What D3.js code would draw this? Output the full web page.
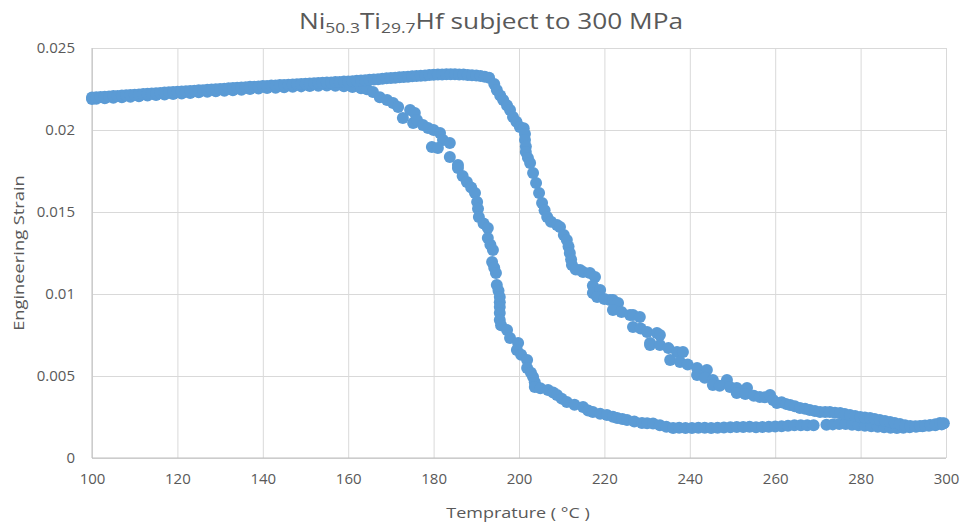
<!DOCTYPE html>
<html>
<head>
<meta charset="utf-8">
<title>NiTiHf strain vs temperature</title>
<script src="https://cdn.jsdelivr.net/npm/d3@7"></script>
<style>
body { margin: 0; background: #fff; }
text { font-family: 'Open Sans', sans-serif; fill: #595959; }
.grid line { stroke: #d9d9d9; }
</style>
</head>
<body>
<script>
// heating branch (upper curve), [temperature, strain]
var heating = [
[100,.02198],[101,.02200],[102,.02201],[103,.02203],[104,.02205],[105,.02207],[106,.02208],[107,.02210],[108,.02212],[109,.02214],
[110,.02215],[111,.02217],[112,.02219],[113,.02221],[114,.02223],[115,.02224],[116,.02226],[117,.02228],[118,.02230],[119,.02231],
[120,.02233],[121,.02235],[122,.02237],[123,.02238],[124,.02240],[125,.02242],[126,.02243],[127,.02245],[128,.02247],[129,.02249],
[130,.02250],[131,.02252],[132,.02254],[133,.02256],[134,.02257],[135,.02259],[136,.02261],[137,.02263],[138,.02264],[139,.02266],
[140,.02268],[141,.02269],[142,.02271],[143,.02272],[144,.02274],[145,.02275],[146,.02276],[147,.02278],[148,.02279],[149,.02281],
[150,.02282],[151,.02283],[152,.02285],[153,.02286],[154,.02288],[155,.02289],[156,.02290],[157,.02292],[158,.02293],[159,.02295],
[160,.02296],[161,.02298],[162,.02300],[163,.02302],[164,.02304],[165,.02306],[166,.02308],[167,.02310],[168,.02313],[169,.02315],
[170,.02317],[171,.02319],[172,.02321],[173,.02323],[174,.02325],[175,.02327],[176,.02329],[177,.02331],[178,.02333],[179,.02335],
[180,.02337],[181,.02338],[182,.02339],[183,.02340],[184,.02340],[185,.02340],[186,.02339],[187,.02338],[188,.02336],[189,.02334],
[190,.02332],[191,.02329],[192,.02325],[193,.02318],
[194.2,.0228],[194.8,.02244],[195.6,.0221],[196.3,.02183],[197.2,.0215],[197.9,.02122],[198.6,.02079],[199.4,.0205],[200.2,.02018],
[201.1,.0201],[201.4,.01975],[201.4,.01939],[201.6,.019],[201.6,.01866],[202.1,.0183],[202.6,.01799],[203.3,.01738],[204,.01677],
[204.7,.01616],[205.4,.01555],[206,.0151],[206.6,.0147],[207.5,.0144],[208.9,.01421],[209.6,.01409],[210.5,.0136],[211.2,.01329],
[211.6,.0129],[211.9,.0125],[212.2,.0121],[212.4,.01177],[213.3,.0115],[214.3,.01146],[215,.01134],[216.6,.01128],[217.8,.01104],
[217.3,.0105],[217.3,.01006],[219,.01024],[218.3,.00982],[220,.0097],[221.3,.00963],[222,.00963],[223.2,.00945],[222,.00902],
[224,.0089],[226,.00872],[226.7,.00872],[228.3,.0086],[226.7,.00799],[228.5,.0079],[230,.00768],[232.3,.00762],[233,.0075],
[230.7,.00701],[230.7,.00689],[233,.00689],[235,.0067],[237,.00646],[238.4,.00646],[235.4,.00598],[237.7,.00585],[239.5,.0057],
[241.7,.00549],[244,.00537],[241.7,.00506],[243.5,.0049],[245.4,.00476],[248.7,.00476],[245.4,.00445],[247,.0044],[249.4,.00433],
[251,.00427],[253.4,.00427],[251,.00396],[253,.0039],[255,.0038],[256.4,.00372],[257.6,.0037],[258.8,.00384],[259.5,.00354],
[260.4,.00335],[261.5,.0034],[262.5,.0033],[263.5,.00323],[264.6,.00315],[265.8,.00305],[267,.003],[268.1,.00293],[269.3,.00287],
[270.5,.0028],[271.7,.0028],[272.8,.0028],[274,.00276],[275.2,.00274],[276.3,.00268],[277.5,.00262],[278.7,.00256],[279.9,.0025],
[281,.00247],[282.2,.00244],[283.3,.00238],[284.5,.00232],[285.7,.00226],[286.9,.0022],[288,.00213],[289.2,.00207],[290.4,.002],
[291.6,.00195],[292.8,.00193],[293.9,.00195],[295.1,.00198],[296.3,.00201],[297.5,.00206],[298.6,.00213],[299.3,.0021]
];

// cooling branch (lower curve)
var cooling = [
[100,.02189],[101,.0219],[103,.02193],[105,.02196],[107,.022],[109,.02203],[111,.02206],[113,.0221],[115,.02213],[117,.02216],
[119,.0222],[121,.02223],[123,.02226],[125,.0223],[127,.02233],[129,.02236],[131,.0224],[133,.02243],[135,.02246],[137,.0225],
[139,.02253],[141,.02256],[143,.02258],[145,.02261],[147,.02263],[149,.02266],[151,.02268],[153,.0227],[155,.02271],[157,.0227],
[159,.02267],[161,.02262],[163,.02255],
[164.4,.02248],[165.8,.02232],[167.4,.022],[169.1,.02183],[170.5,.02165],[171.7,.0214],[172.8,.02073],[174.5,.02122],[175.6,.02104],
[175.2,.02043],[176.1,.02061],[177.5,.0203],[178.7,.02012],[180,.02],[181.5,.01982],[182.2,.01939],[179.6,.01896],[181,.0189],
[183.8,.01921],[183.8,.01835],[185.7,.01787],[185.7,.01768],[186.8,.0172],[187.8,.01683],[188.8,.0165],[189.7,.01616],[190.2,.01561],
[190.4,.0152],[190.6,.0147],[191.7,.0143],[192.7,.01402],[192.7,.01341],[193.3,.013],[193.9,.01268],[193.7,.01195],[194.2,.0116],
[194.6,.01128],[194.8,.01055],[195.2,.0102],[195.5,.00982],[195.5,.0095],[195.5,.0092],[195.5,.00884],[195.5,.00841],[195.8,.0081],
[197.2,.0078],[197.9,.00732],[199.8,.00701],[199.5,.00659],[200.5,.0063],[201.9,.00598],[201.9,.00549],[202.8,.0052],[203.3,.00494],
[203.7,.00462],[203.7,.00433],[205,.00425],[206.8,.00415],[208,.004],[208.9,.00384],[210,.00362],[211.2,.00341],[213,.00325],
[215,.00311],[216.2,.0029],[217.3,.0028],[219,.0027],[220.6,.00262],[222,.00252],[223,.00244],[224.2,.00238],[225.3,.00232],
[227,.00222],[228.8,.00213],[230,.00212],[231.4,.0021],[233,.002],[234.5,.0019],[236.1,.00183],[237.5,.00184],[239,.00183],
[240.5,.00183],[242,.00185],[243.5,.00184],[245,.00183],[246.5,.00184],[248,.00186],[249.5,.00187],[251,.00189],[252.5,.00189],
[254,.0019],[255.5,.00188],[257,.00189],[258.5,.0019],[260,.00192],[261.5,.00194],[263,.00197],[264.5,.00199],[266,.002],
[267.5,.002],[269,.002],[272,.00203],[273.5,.00205],[275,.00208],[276.5,.00207],[278,.00203],[279.5,.002],[281,.00197],
[282.5,.00194],[284,.0019],[285.5,.00187],[287,.00184],[288.5,.00183],[290,.00185],[291.5,.00187],[293,.0019],[294.5,.00193],
[296,.00196],[297.5,.002],[299,.00205],[299.5,.00212]
];

var xTicks = [100,120,140,160,180,200,220,240,260,280,300];
var yTicks = [0,0.005,0.01,0.015,0.02,0.025];
var yTickLabels = ["0","0.005","0.01","0.015","0.02","0.025"];

var w = 963, h = 527;
var mLeft = 92, mRight = 946, mTop = 48, mBottom = 458;

var svg = d3.select("body").append("svg")
  .attr("width", w)
  .attr("height", h);

var x = d3.scaleLinear().domain([100,300]).range([mLeft,mRight]);
var y = d3.scaleLinear().domain([0,0.025]).range([mBottom,mTop]);

// gridlines + tick labels
svg.append("g")
  .attr("class","grid")
  .attr("transform","translate(0,"+mBottom+")")
  .call(d3.axisBottom(x).tickValues(xTicks).tickSize(-(mBottom-mTop)).tickPadding(15).tickFormat(d3.format("d")));

svg.append("g")
  .attr("class","grid")
  .attr("transform","translate("+mLeft+",0)")
  .call(d3.axisLeft(y).tickValues(yTicks).tickSize(-(mRight-mLeft)).tickPadding(17)
    .tickFormat(function(d,i){ return yTickLabels[i]; }));

svg.selectAll(".grid .domain").remove();
svg.selectAll(".grid text").attr("fill","#595959").style("font-size","15px").style("font-family","'Open Sans', sans-serif");

// axis lines
svg.append("line").attr("x1",mLeft).attr("x2",mRight).attr("y1",mBottom).attr("y2",mBottom).attr("stroke","#bfbfbf");
svg.append("line").attr("x1",mLeft).attr("x2",mLeft).attr("y1",mTop).attr("y2",mBottom).attr("stroke","#bfbfbf");

// markers
var r = 6;
svg.append("g").selectAll("circle.c").data(cooling).enter().append("circle")
  .attr("class","c")
  .attr("cx", function(d){ return x(d[0]); })
  .attr("cy", function(d){ return y(d[1]); })
  .attr("r", r)
  .attr("fill","#5b9bd5");
svg.append("g").selectAll("circle.h").data(heating).enter().append("circle")
  .attr("class","h")
  .attr("cx", function(d){ return x(d[0]); })
  .attr("cy", function(d){ return y(d[1]); })
  .attr("r", r)
  .attr("fill","#5b9bd5");

// title with subscripts (stretched a little, the original font is wider)
var title = svg.append("text")
  .attr("transform","translate(491,29) scale(1.25,1)")
  .attr("text-anchor","middle")
  .style("font-size","21px");
title.append("tspan").text("Ni");
title.append("tspan").attr("dy",4).style("font-size","14px").text("50.3");
title.append("tspan").attr("dy",-4).text("Ti");
title.append("tspan").attr("dy",4).style("font-size","14px").text("29.7");
title.append("tspan").attr("dy",-4).text("Hf subject to 300 MPa");

// axis titles
svg.append("text")
  .attr("transform","translate(518,518) scale(1.2,1)")
  .attr("text-anchor","middle")
  .style("font-size","15px")
  .text("Temprature ( °C )");

svg.append("text")
  .attr("transform","translate(24,253) rotate(-90) scale(1.22,1)")
  .attr("text-anchor","middle")
  .style("font-size","15px")
  .text("Engineering Strain");
</script>
</body>
</html>
